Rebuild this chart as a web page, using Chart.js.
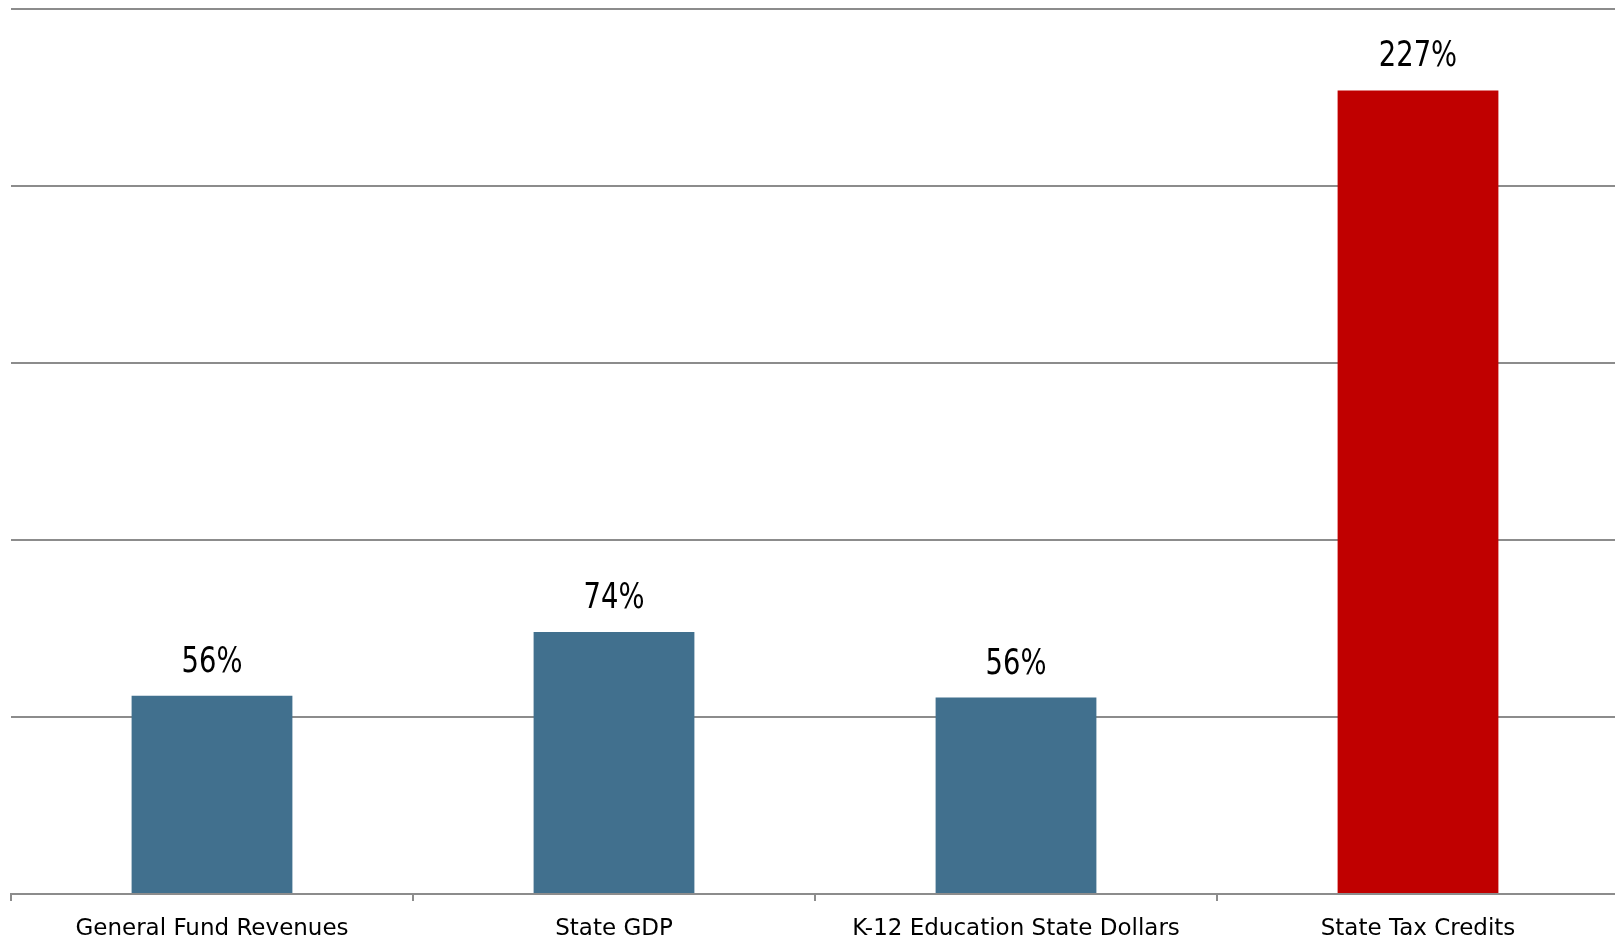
<!DOCTYPE html>
<html>
<head>
<meta charset="utf-8">
<script src="https://cdn.jsdelivr.net/npm/chart.js@4"></script>
<style>
  html, body { margin: 0; padding: 0; background: #fff; overflow: hidden; }
  #wrap { width: 1619px; height: 940px; }
</style>
</head>
<body>
<div id="wrap"><canvas id="growthChart"></canvas></div>
<script>
const categories = ["General Fund Revenues", "State GDP", "K-12 Education State Dollars", "State Tax Credits"];
const growth = [56, 74, 55.5, 227];
const yTicks = [0, 50, 100, 150, 200, 250];

const blue = "#41708e";
const red = "#c00000";
const gridColor = "#8c8c8c";

// etiketter ovanför staplarna
const valueLabels = {
    id: "valueLabels",
    afterDatasetsDraw(chart) {
        const ctx = chart.ctx;
        const meta = chart.getDatasetMeta(0);
        meta.data.forEach((bar, i) => {
            ctx.save();
            ctx.font = "35px 'DejaVu Sans Condensed'";
            ctx.fillStyle = "#000";
            ctx.textAlign = "center";
            ctx.textBaseline = "alphabetic";
            ctx.translate(bar.x, bar.y - 24);
            ctx.scale(0.87, 1);
            ctx.fillText(Math.round(growth[i]) + "%", 0, 0);
            ctx.restore();
        });
    }
};

new Chart(document.getElementById("growthChart"), {
    type: "bar",
    data: {
        labels: categories,
        datasets: [{
            data: growth,
            backgroundColor: growth.map((v, i) => i === growth.length - 1 ? red : blue),
            borderWidth: 0,
            barPercentage: 0.4,
            categoryPercentage: 1
        }]
    },
    options: {
        responsive: true,
        maintainAspectRatio: false,
        animation: false,
        layout: { padding: { left: 11, top: 9, right: 0, bottom: 0 } },
        plugins: {
            legend: { display: false },
            tooltip: { enabled: false }
        },
        scales: {
            x: {
                afterFit: (s) => { s.height = 46; },
                grid: {
                    offset: true,
                    drawOnChartArea: false,
                    drawTicks: true,
                    tickLength: 7,
                    color: gridColor,
                    lineWidth: 2
                },
                border: { color: gridColor, width: 2 },
                ticks: {
                    color: "#000",
                    padding: 14,
                    maxRotation: 0,
                    font: { family: "'DejaVu Sans'", size: 23 }
                }
            },
            y: {
                min: 0,
                max: 250,
                afterFit: (s) => { s.width = 0; },
                afterBuildTicks: (s) => { s.ticks = yTicks.map(v => ({ value: v })); },
                grid: { color: gridColor, lineWidth: 2, drawTicks: false },
                border: { display: false },
                ticks: { display: false }
            }
        }
    },
    plugins: [valueLabels]
});
</script>
</body>
</html>
